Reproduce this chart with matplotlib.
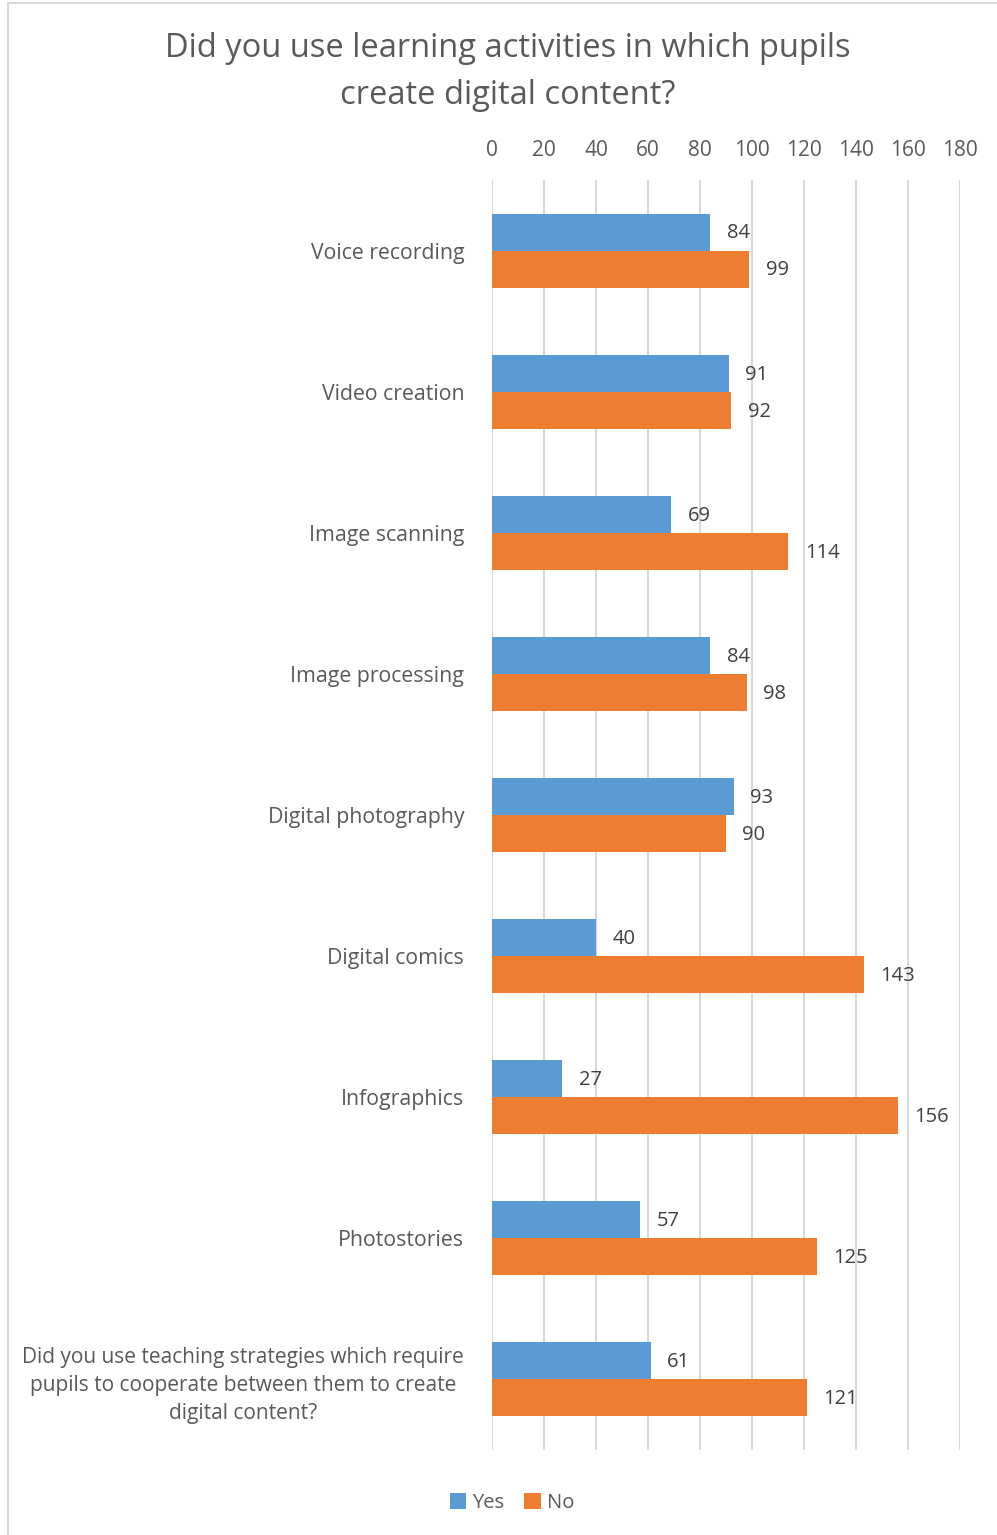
import matplotlib
matplotlib.use("Agg")
import matplotlib.pyplot as plt
from matplotlib.patches import Rectangle
import numpy as np

categories = [
    "Voice recording",
    "Video creation",
    "Image scanning",
    "Image processing",
    "Digital photography",
    "Digital comics",
    "Infographics",
    "Photostories",
    "Did you use teaching strategies which require\npupils to cooperate between them to create\ndigital content?",
]
yes_values = [84, 91, 69, 84, 93, 40, 27, 57, 61]
no_values = [99, 92, 114, 98, 90, 143, 156, 125, 121]
x_ticks = [0, 20, 40, 60, 80, 100, 120, 140, 160, 180]
series_names = ["Yes", "No"]

BLUE = "#5B9BD5"
ORANGE = "#ED7D31"
TEXT = "#595959"
GRID = "#D9D9D9"

fig = plt.figure(figsize=(9.97, 15.35), dpi=100)
fig.patch.set_facecolor("white")

# chart frame
fig.add_artist(Rectangle((8 / 997, -0.01), 1.2, 1 - 3 / 1535 + 0.01,
                         transform=fig.transFigure, fill=False,
                         edgecolor="#D9D9D9", linewidth=1.5))

ax = fig.add_axes([492 / 997, 1 - 1450 / 1535, 468 / 997, (1450 - 180) / 1535])

n = len(categories)
y = np.arange(n)
h = 0.262
ax.barh(y - h / 2, yes_values, height=h, color=BLUE, label=series_names[0], zorder=3)
ax.barh(y + h / 2, no_values, height=h, color=ORANGE, label=series_names[1], zorder=3)

for yi, v in zip(y, yes_values):
    ax.text(v + 6.3, yi - h / 2 + 0.01, str(v), va="center", ha="left",
            fontsize=14.5, color="#404040", family="Open Sans")
for yi, v in zip(y, no_values):
    ax.text(v + 6.3, yi + h / 2 + 0.01, str(v), va="center", ha="left",
            fontsize=14.5, color="#404040", family="Open Sans")

ax.set_xlim(0, 180)
ax.set_ylim(n - 0.5, -0.5)
ax.set_xticks(x_ticks)
ax.xaxis.tick_top()
ax.tick_params(axis="x", length=0, pad=13.5, labelsize=15, labelcolor=TEXT)
for lab in ax.get_xticklabels():
    lab.set_family("Open Sans")

ax.set_yticks(y)
ax.set_yticklabels(categories, fontsize=15.3, color=TEXT, family="Open Sans",
                   multialignment="center", linespacing=1.45)
ax.tick_params(axis="y", length=0, pad=20)
# the long question label is set a touch smaller
long_label = ax.get_yticklabels()[-1]
long_label.set_fontsize(15.0)

ax.grid(axis="x", color=GRID, linewidth=1.5, zorder=0)
ax.set_axisbelow(True)
for s in ax.spines.values():
    s.set_visible(False)

fig.text(0.509, 1 - 72 / 1535,
         "Did you use learning activities in which pupils\ncreate digital content?",
         ha="center", va="center", fontsize=23.5, color=TEXT,
         family="Open Sans", linespacing=1.55)

fig.legend(loc="center", bbox_to_anchor=(512 / 997, 1 - 1503 / 1535), ncol=2,
           frameon=False, handlelength=0.8, handleheight=0.8, handletextpad=0.3,
           columnspacing=1.0, prop={"family": "Open Sans", "size": 14.5},
           labelcolor=TEXT)

fig.savefig("out.png", dpi=100)
